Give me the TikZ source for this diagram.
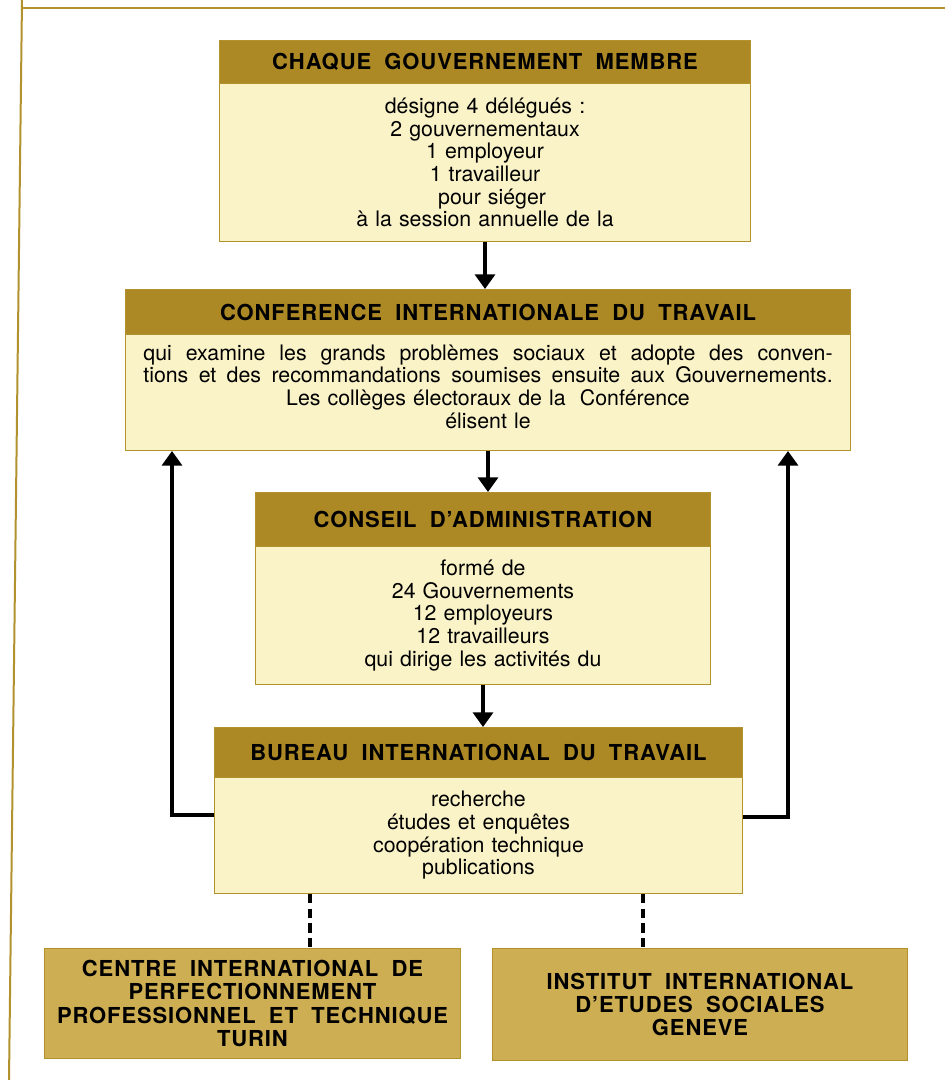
\documentclass[tikz,border=0pt]{standalone}
\usepackage{fontspec}
\setmainfont[WordSpace=1.2]{TeX Gyre Heros}
\newfontfamily\headfont[WordSpace=1.9,LetterSpace=4]{TeX Gyre Heros}
\usetikzlibrary{arrows.meta}

\definecolor{ochre}{RGB}{172,137,36}
\definecolor{paleyel}{RGB}{250,243,200}
\definecolor{sand}{RGB}{206,174,82}
\definecolor{rim}{RGB}{178,146,46}

\tikzset{every picture/.style={line width=0.75pt},
  headbox/.style={draw=rim, fill=ochre, anchor=north west, inner sep=0pt, align=center,
    font=\headfont\bfseries\fontsize{16.5}{18}\selectfont},
  bodybox/.style={draw=rim, fill=paleyel, anchor=north west, inner sep=0pt, align=center,
    font=\fontsize{16}{17}\selectfont},
  sidebox/.style={draw=rim, fill=sand, anchor=north west, inner sep=0pt, align=center,
    font=\headfont\bfseries\fontsize{16.5}{17.5}\selectfont},
  flow/.style={line width=2.6pt, -{Triangle[width=15pt,length=11pt]}},
  link/.style={line width=3pt, dash pattern=on 7pt off 4pt}
}

\begin{document}
\begin{tikzpicture}[x=0.75pt,y=0.75pt,yscale=-1,xscale=1]
\useasboundingbox (0,0) rectangle (945,1080);

%Frame
\draw [rim, line width=1.5pt] (945,8) -- (22,8) ;
\draw [rim, line width=1.5pt] (22,0) -- (9,1080) ;

%Member governments
\node [headbox, minimum width=398.25pt, minimum height=32.25pt] (gouvhead) at (219,40) {CHAQUE GOUVERNEMENT MEMBRE};
\node [bodybox, minimum width=398.25pt, minimum height=118.5pt] (gouv) at (219,83) {désigne 4 délégués :\\ 2 gouvernementaux\\ 1 employeur\\ 1 travailleur\\ \ \ pour siéger\\ à la session annuelle de la};

%Conference
\node [headbox, minimum width=543.75pt, minimum height=33.75pt] (confhead) at (125,289) {CONFERENCE INTERNATIONALE DU TRAVAIL};
\node [bodybox, minimum width=543.75pt, minimum height=87pt] (conf) at (125,334) {\makebox[517pt][s]{qui examine les grands problèmes sociaux et adopte des conven-}\\ \makebox[517pt][s]{tions et des recommandations soumises ensuite aux Gouvernements.}\\ Les collèges électoraux de la \ Conférence\\ élisent le\\[-8pt]};

%Governing body
\node [headbox, minimum width=341.25pt, minimum height=40.5pt] (conshead) at (255,492) {CONSEIL D’ADMINISTRATION};
\node [bodybox, minimum width=341.25pt, minimum height=103.5pt] (cons) at (255,546) {formé de\\ 24 Gouvernements\\ 12 employeurs\\ 12 travailleurs\\ qui dirige les activités du};

%Office
\node [headbox, minimum width=396pt, minimum height=37.5pt] (burhead) at (214,727) {BUREAU INTERNATIONAL DU TRAVAIL};
\node [bodybox, minimum width=396pt, minimum height=87pt] (bur) at (214,777) {recherche\\ études et enquêtes\\ coopération technique\\ publications};

%Turin and Geneva
\node [sidebox, minimum width=312pt, minimum height=82.5pt] (centre) at (44,948) {CENTRE INTERNATIONAL DE\\ PERFECTIONNEMENT\\ PROFESSIONNEL ET TECHNIQUE\\ TURIN};
\node [sidebox, minimum width=311.25pt, minimum height=84pt] (institut) at (492,948) {INSTITUT INTERNATIONAL\\ D’ETUDES SOCIALES\\ GENEVE};

%Arrows down
\draw [flow] (gouv.south) -- (gouv.south |- confhead.north) ;
\draw [flow] (conf.south) -- (conf.south |- conshead.north) ;
\draw [flow] (cons.south) -- (cons.south |- burhead.north) ;

%Arrows back up
\coordinate (lturn) at (172,815) ;
\coordinate (rturn) at (788,817) ;
\draw [flow] (bur.west |- lturn) -- (lturn) -- (lturn |- conf.south) ;
\draw [flow] (bur.east |- rturn) -- (rturn) -- (rturn |- conf.south) ;

%Dashed ties
\coordinate (ltie) at (310,893) ;
\coordinate (rtie) at (643,893) ;
\draw [link] (bur.south -| ltie) -- (centre.north -| ltie) ;
\draw [link] (bur.south -| rtie) -- (institut.north -| rtie) ;

\end{tikzpicture}
\end{document}
